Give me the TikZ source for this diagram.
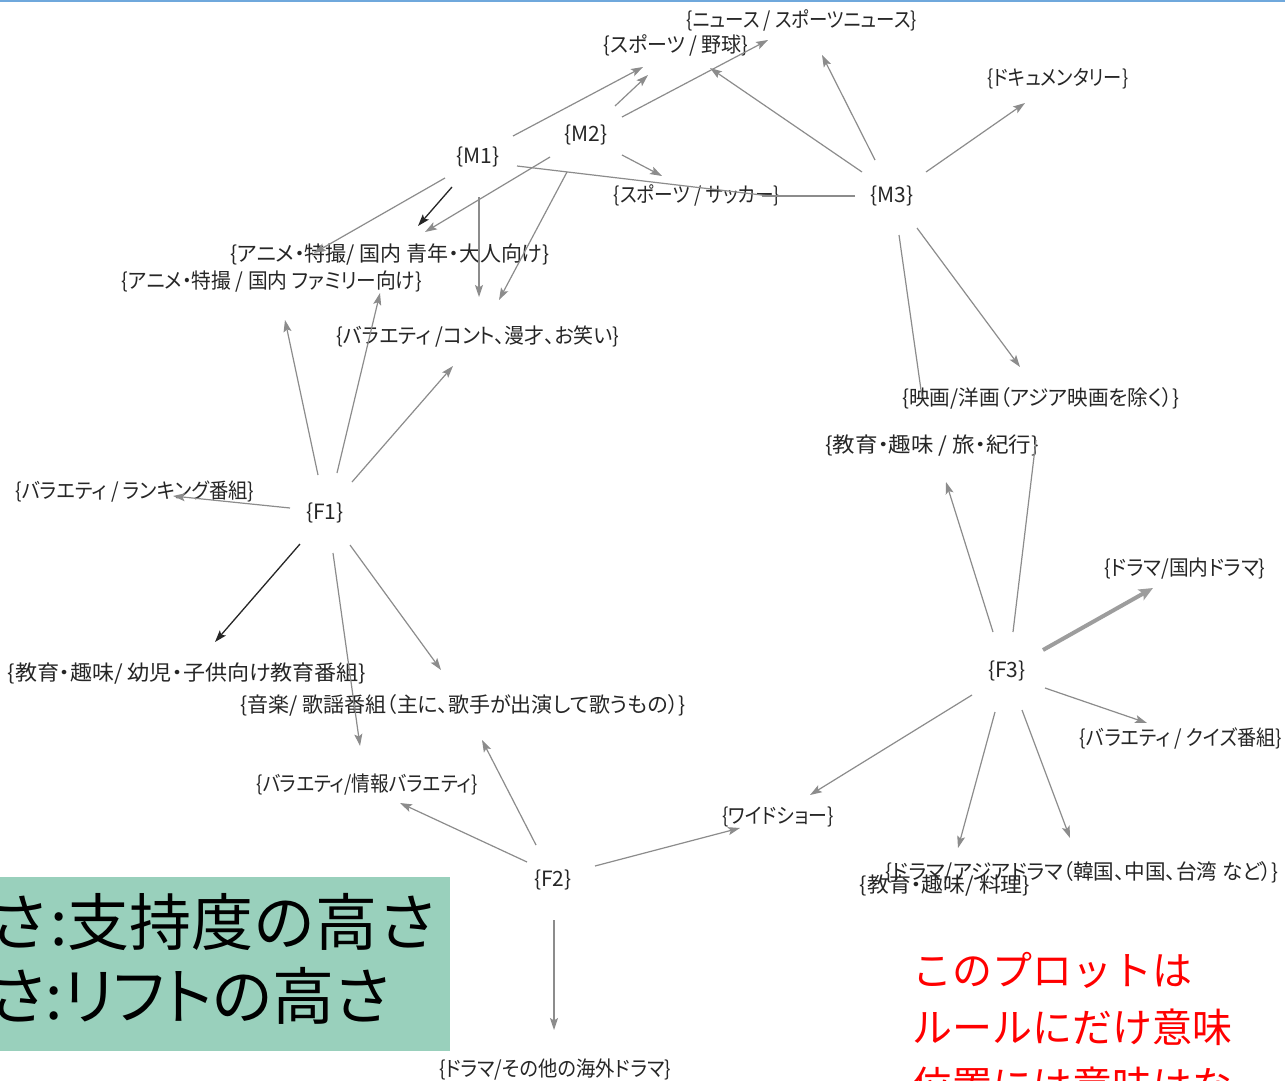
\documentclass[tikz,border=0pt]{standalone}
\usepackage{graphicx}
\usepackage{fontspec}
\newfontfamily\jp[RawFeature=+palt]{Noto Sans CJK JP}
\newfontfamily\jpbig{Noto Sans CJK JP}
\usetikzlibrary{arrows.meta}
\definecolor{edgegray}{HTML}{8C8C8C}
\definecolor{boxgreen}{HTML}{99D0BC}
\definecolor{topblue}{HTML}{6FA8DC}
\newcommand{\hsq}[2]{\scalebox{#1}[1]{#2}}
\begin{document}
\begin{tikzpicture}[x=1pt,y=-1pt,
  lbl/.style={font=\jp\fontsize{21}{25}\selectfont, text=black!85, inner sep=0pt, anchor=center},
  edge/.style={draw=edgegray, line width=1.2pt, -{Stealth[length=12pt,width=8pt,inset=2.5pt]}},
  darkedge/.style={draw=black!85, line width=1.3pt, -{Stealth[length=12pt,width=8pt,inset=2.5pt]}},
  thickedge/.style={draw=edgegray!85, line width=4pt, -{Stealth[length=14pt,width=12pt,inset=3pt]}},
  plainedge/.style={draw=edgegray, line width=1.2pt},
  bigtxt/.style={font=\jpbig\fontsize{62}{74}\selectfont, text=black, inner sep=0pt, anchor=west},
  bigtxtp/.style={font=\jp\fontsize{62}{74}\selectfont, text=black, inner sep=0pt, anchor=west},
  redtxt/.style={font=\jpbig\fontsize{40}{48}\selectfont, text=red, inner sep=0pt, anchor=west}]
\path[use as bounding box] (0,0) rectangle (1285,1081);
\clip (0,0) rectangle (1285,1081);
\fill[white] (0,0) rectangle (1285,1081);
\fill[topblue] (0,0) rectangle (1285,2.5);

% ---- labels ----
\node[lbl] (news) at (802,20) {\hsq{0.88}{\{ニュース / スポーツニュース\}}};
\node[lbl] (baseball) at (676,45) {\hsq{0.95}{\{スポーツ / 野球\}}};
\node[lbl] (docu) at (1058,79) {\hsq{0.87}{\{ドキュメンタリー\}}};
\node[lbl] (M1) at (478,157) {\{M1\}};
\node[lbl] (M2) at (586,135) {\{M2\}};
\node[lbl] (M3) at (892,196) {\{M3\}};
\node[lbl] (soccer) at (697,195) {\hsq{0.89}{\{スポーツ / サッカー\}}};
\node[lbl] (animeA) at (390,255) {\{アニメ・特撮/ 国内 青年・大人向け\}};
\node[lbl] (animeF) at (272,282) {\hsq{0.94}{\{アニメ・特撮 / 国内 ファミリー向け\}}};
\node[lbl] (comedy) at (478,337) {\hsq{0.95}{\{バラエティ /コント、漫才、お笑い\}}};
\node[lbl] (movie) at (1041,398) {\hsq{0.98}{\{映画/洋画（アジア映画を除く）\}}};
\node[lbl] (travel) at (932,446) {\hsq{1.07}{\{教育・趣味 / 旅・紀行\}}};
\node[lbl] (ranking) at (135,492) {\hsq{0.92}{\{バラエティ / ランキング番組\}}};
\node[lbl] (F1) at (325,513) {\{F1\}};
\node[lbl] (ddrama) at (1185,569) {\hsq{0.94}{\{ドラマ/国内ドラマ\}}};
\node[lbl] (F3) at (1007,671) {\{F3\}};
\node[lbl] (kids) at (187,674) {\hsq{1.05}{\{教育・趣味/ 幼児・子供向け教育番組\}}};
\node[lbl] (music) at (463,705) {\{音楽/ 歌謡番組（主に、歌手が出演して歌うもの）\}};
\node[lbl] (quiz) at (1181,738) {\hsq{0.91}{\{バラエティ / クイズ番組\}}};
\node[lbl] (info) at (367,785) {\hsq{0.89}{\{バラエティ/情報バラエティ\}}};
\node[lbl] (wide) at (778,817) {\hsq{0.9}{\{ワイドショー\}}};
\node[lbl] (asia) at (1082,872) {\hsq{0.98}{\{ドラマ/アジアドラマ（韓国、中国、台湾 など）\}}};
\node[lbl] (cook) at (945,886) {\hsq{1.04}{\{教育・趣味/ 料理\}}};
\node[lbl] (F2) at (553,880) {\{F2\}};
\node[lbl] (odrama) at (555,1070) {\hsq{0.92}{\{ドラマ/その他の海外ドラマ\}}};

% ---- connector end points ----
\coordinate (c1s) at (513,136);  \coordinate (c1t) at (643,67);
\coordinate (c2s) at (615,106);  \coordinate (c2t) at (648,75);
\coordinate (c3s) at (622,117);  \coordinate (c3t) at (768,40);
\coordinate (c4s) at (862,172);  \coordinate (c4t) at (710,68);
\coordinate (c5s) at (875,160);  \coordinate (c5t) at (822,55);
\coordinate (c6s) at (926,172);  \coordinate (c6t) at (1025,103);
\coordinate (c7s) at (622,155);  \coordinate (c7t) at (662,176);
\coordinate (c8s) at (445,178);  \coordinate (c8t) at (314,253);
\coordinate (c9s) at (452,187);  \coordinate (c9t) at (418,226);
\coordinate (c10s) at (550,157); \coordinate (c10t) at (425,232);
\coordinate (c11s) at (479,197); \coordinate (c11t) at (479,297);
\coordinate (c12s) at (567,172); \coordinate (c12t) at (499,300);
\coordinate (c13s) at (917,228); \coordinate (c13t) at (1020,367);
\coordinate (c14s) at (318,475); \coordinate (c14t) at (285,320);
\coordinate (c15s) at (337,473); \coordinate (c15t) at (380,293);
\coordinate (c16s) at (352,482); \coordinate (c16t) at (453,366);
\coordinate (c17s) at (290,508); \coordinate (c17t) at (173,496);
\coordinate (c18s) at (300,544); \coordinate (c18t) at (215,642);
\coordinate (c19s) at (333,553); \coordinate (c19t) at (360,746);
\coordinate (c20s) at (350,545); \coordinate (c20t) at (441,670);
\coordinate (c21s) at (527,862); \coordinate (c21t) at (400,803);
\coordinate (c22s) at (536,845); \coordinate (c22t) at (482,740);
\coordinate (c23s) at (595,866); \coordinate (c23t) at (740,828);
\coordinate (c24s) at (554,920); \coordinate (c24t) at (554,1030);
\coordinate (c25s) at (993,632); \coordinate (c25t) at (946,482);
\coordinate (c26s) at (1043,650); \coordinate (c26t) at (1153,588);
\coordinate (c27s) at (1045,688); \coordinate (c27t) at (1147,723);
\coordinate (c28s) at (972,695); \coordinate (c28t) at (810,795);
\coordinate (c29s) at (995,712); \coordinate (c29t) at (958,848);
\coordinate (c30s) at (1022,710); \coordinate (c30t) at (1070,838);
\coordinate (c31s) at (517,166); \coordinate (c31t) at (770,196);
\coordinate (c32s) at (855,196); \coordinate (c32t) at (762,196);
\coordinate (c33s) at (899,235); \coordinate (c33t) at (922,397);
\coordinate (c34s) at (1013,632); \coordinate (c34t) at (1036,440);

% ---- connectors ----
\foreach \i in {1,2,3,4,5,6,7,8,10,11,12,13,14,15,16,17,19,20,21,22,23,24,25,27,28,29,30}
  \draw[edge] (c\i s) -- (c\i t);
\draw[darkedge] (c9s) -- (c9t);
\draw[darkedge] (c18s) -- (c18t);
\draw[thickedge] (c26s) -- (c26t);
\foreach \i in {31,32,33,34}
  \draw[plainedge] (c\i s) -- (c\i t);

% ---- overlay boxes ----
\fill[boxgreen] (0,877) rectangle (450,1051);
\node[bigtxt] (t1) at (-12,922) {さ:支持度の高さ};
\node[bigtxtp] (t2) at (-10,996) {さ:リフトの高さ};
\node[redtxt] (r1) at (912,970) {このプロットは};
\node[redtxt] (r2) at (912,1027) {ルールにだけ意味};
\node[redtxt] (r3) at (912,1085) {位置には意味はな};
\end{tikzpicture}
\end{document}
